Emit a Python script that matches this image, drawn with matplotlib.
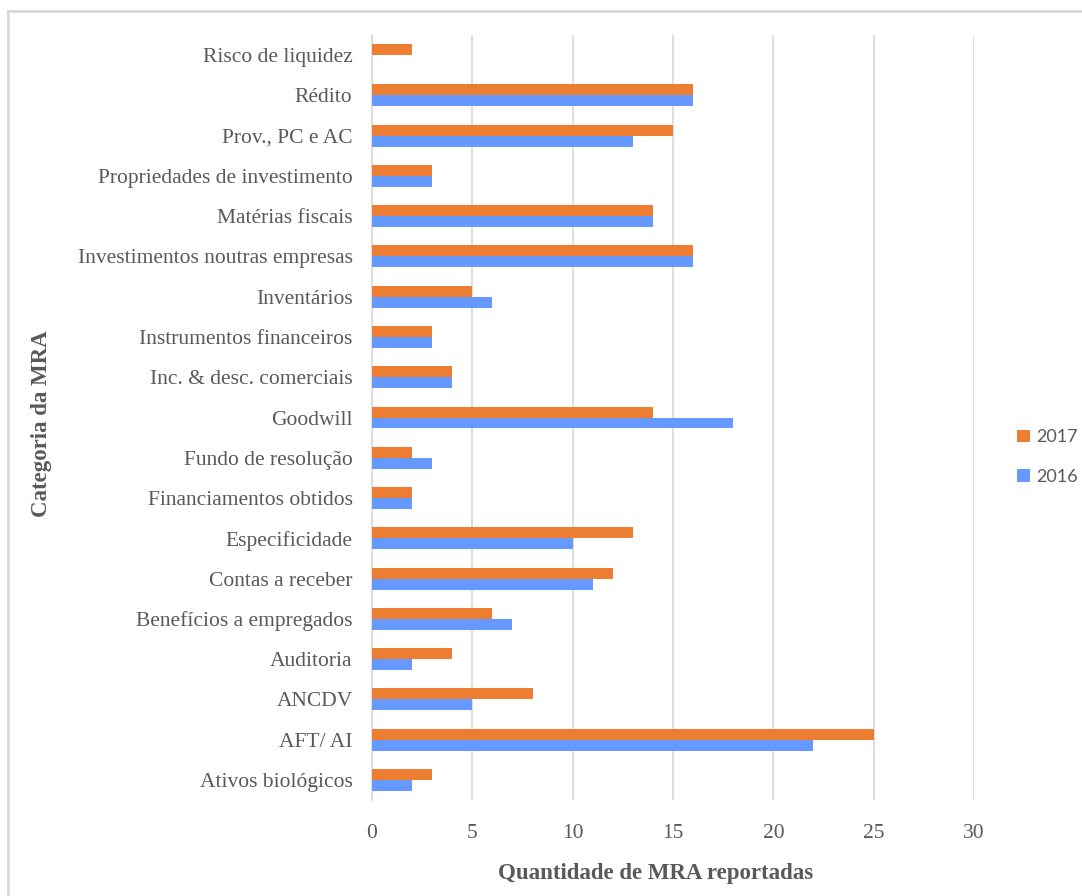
import matplotlib
matplotlib.use("Agg")
import matplotlib.pyplot as plt
from matplotlib.lines import Line2D
import numpy as np

categories = ["Ativos biológicos", "AFT/ AI", "ANCDV", "Auditoria",
              "Benefícios a empregados", "Contas a receber", "Especificidade",
              "Financiamentos obtidos", "Fundo de resolução", "Goodwill",
              "Inc. & desc. comerciais", "Instrumentos financeiros", "Inventários",
              "Investimentos noutras empresas", "Matérias fiscais",
              "Propriedades de investimento", "Prov., PC e AC", "Rédito",
              "Risco de liquidez"]
vals_2016 = [2, 22, 5, 2, 7, 11, 10, 2, 3, 18, 4, 3, 6, 16, 14, 3, 13, 16, 0]
vals_2017 = [3, 25, 8, 4, 6, 12, 13, 2, 2, 14, 4, 3, 5, 16, 14, 3, 15, 16, 2]
xticks = [0, 5, 10, 15, 20, 25, 30]

ORANGE = "#ED7D31"
BLUE = "#6699FF"
TXT = "#595959"
SERIF = "Liberation Serif"

fig = plt.figure(figsize=(10.82, 8.96), dpi=100)
ax = fig.add_axes([372 / 1082, 1 - 800 / 896, (974 - 372) / 1082, 765 / 896])

y = np.arange(len(categories))
h = 0.273
ax.barh(y + h / 2, vals_2017, height=h, color=ORANGE, label="2017", zorder=3)
ax.barh(y - h / 2, vals_2016, height=h, color=BLUE, label="2016", zorder=3)

ax.set_xlim(0, 30)
ax.set_ylim(-0.5, len(categories) - 0.5)
ax.set_xticks(xticks)
ax.set_yticks(y)
ax.set_yticklabels(categories)
for lab in ax.get_xticklabels() + ax.get_yticklabels():
    lab.set_fontfamily(SERIF)
    lab.set_fontsize(15.5)
    lab.set_color(TXT)
ax.tick_params(axis="both", length=0)
ax.tick_params(axis="y", pad=14)
ax.tick_params(axis="x", pad=17)

ax.grid(axis="x", color="#D9D9D9", linewidth=1.2, zorder=0)
for s in ["top", "right", "bottom"]:
    ax.spines[s].set_visible(False)
ax.spines["left"].set_color("#D9D9D9")
ax.spines["left"].set_linewidth(1.2)

fig.text(656 / 1082, 1 - 873 / 896, "Quantidade de MRA reportadas", ha="center", va="center",
         fontfamily=SERIF, fontsize=16.5, fontweight="bold", color=TXT)
fig.text(42 / 1082, 1 - 424 / 896, "Categoria da MRA", ha="center", va="center", rotation=90,
         fontfamily=SERIF, fontsize=16.5, fontweight="bold", color=TXT)

leg = fig.legend(loc="center left", bbox_to_anchor=(1017 / 1082, 1 - 457 / 896), frameon=False,
                 prop={"family": "Lato", "size": 13}, handlelength=0.7, handleheight=0.7,
                 handletextpad=0.35, labelspacing=1.3, borderpad=0, borderaxespad=0)
for t in leg.get_texts():
    t.set_color(TXT)

# outer frame (only top and left visible in the crop)
fig.add_artist(Line2D([8 / 1082, 1], [1 - 11 / 896, 1 - 11 / 896], transform=fig.transFigure,
                      color="#D9D9D9", linewidth=2))
fig.add_artist(Line2D([8 / 1082, 8 / 1082], [0, 1 - 11 / 896], transform=fig.transFigure,
                      color="#D9D9D9", linewidth=2))

fig.savefig("out.png", dpi=100)
